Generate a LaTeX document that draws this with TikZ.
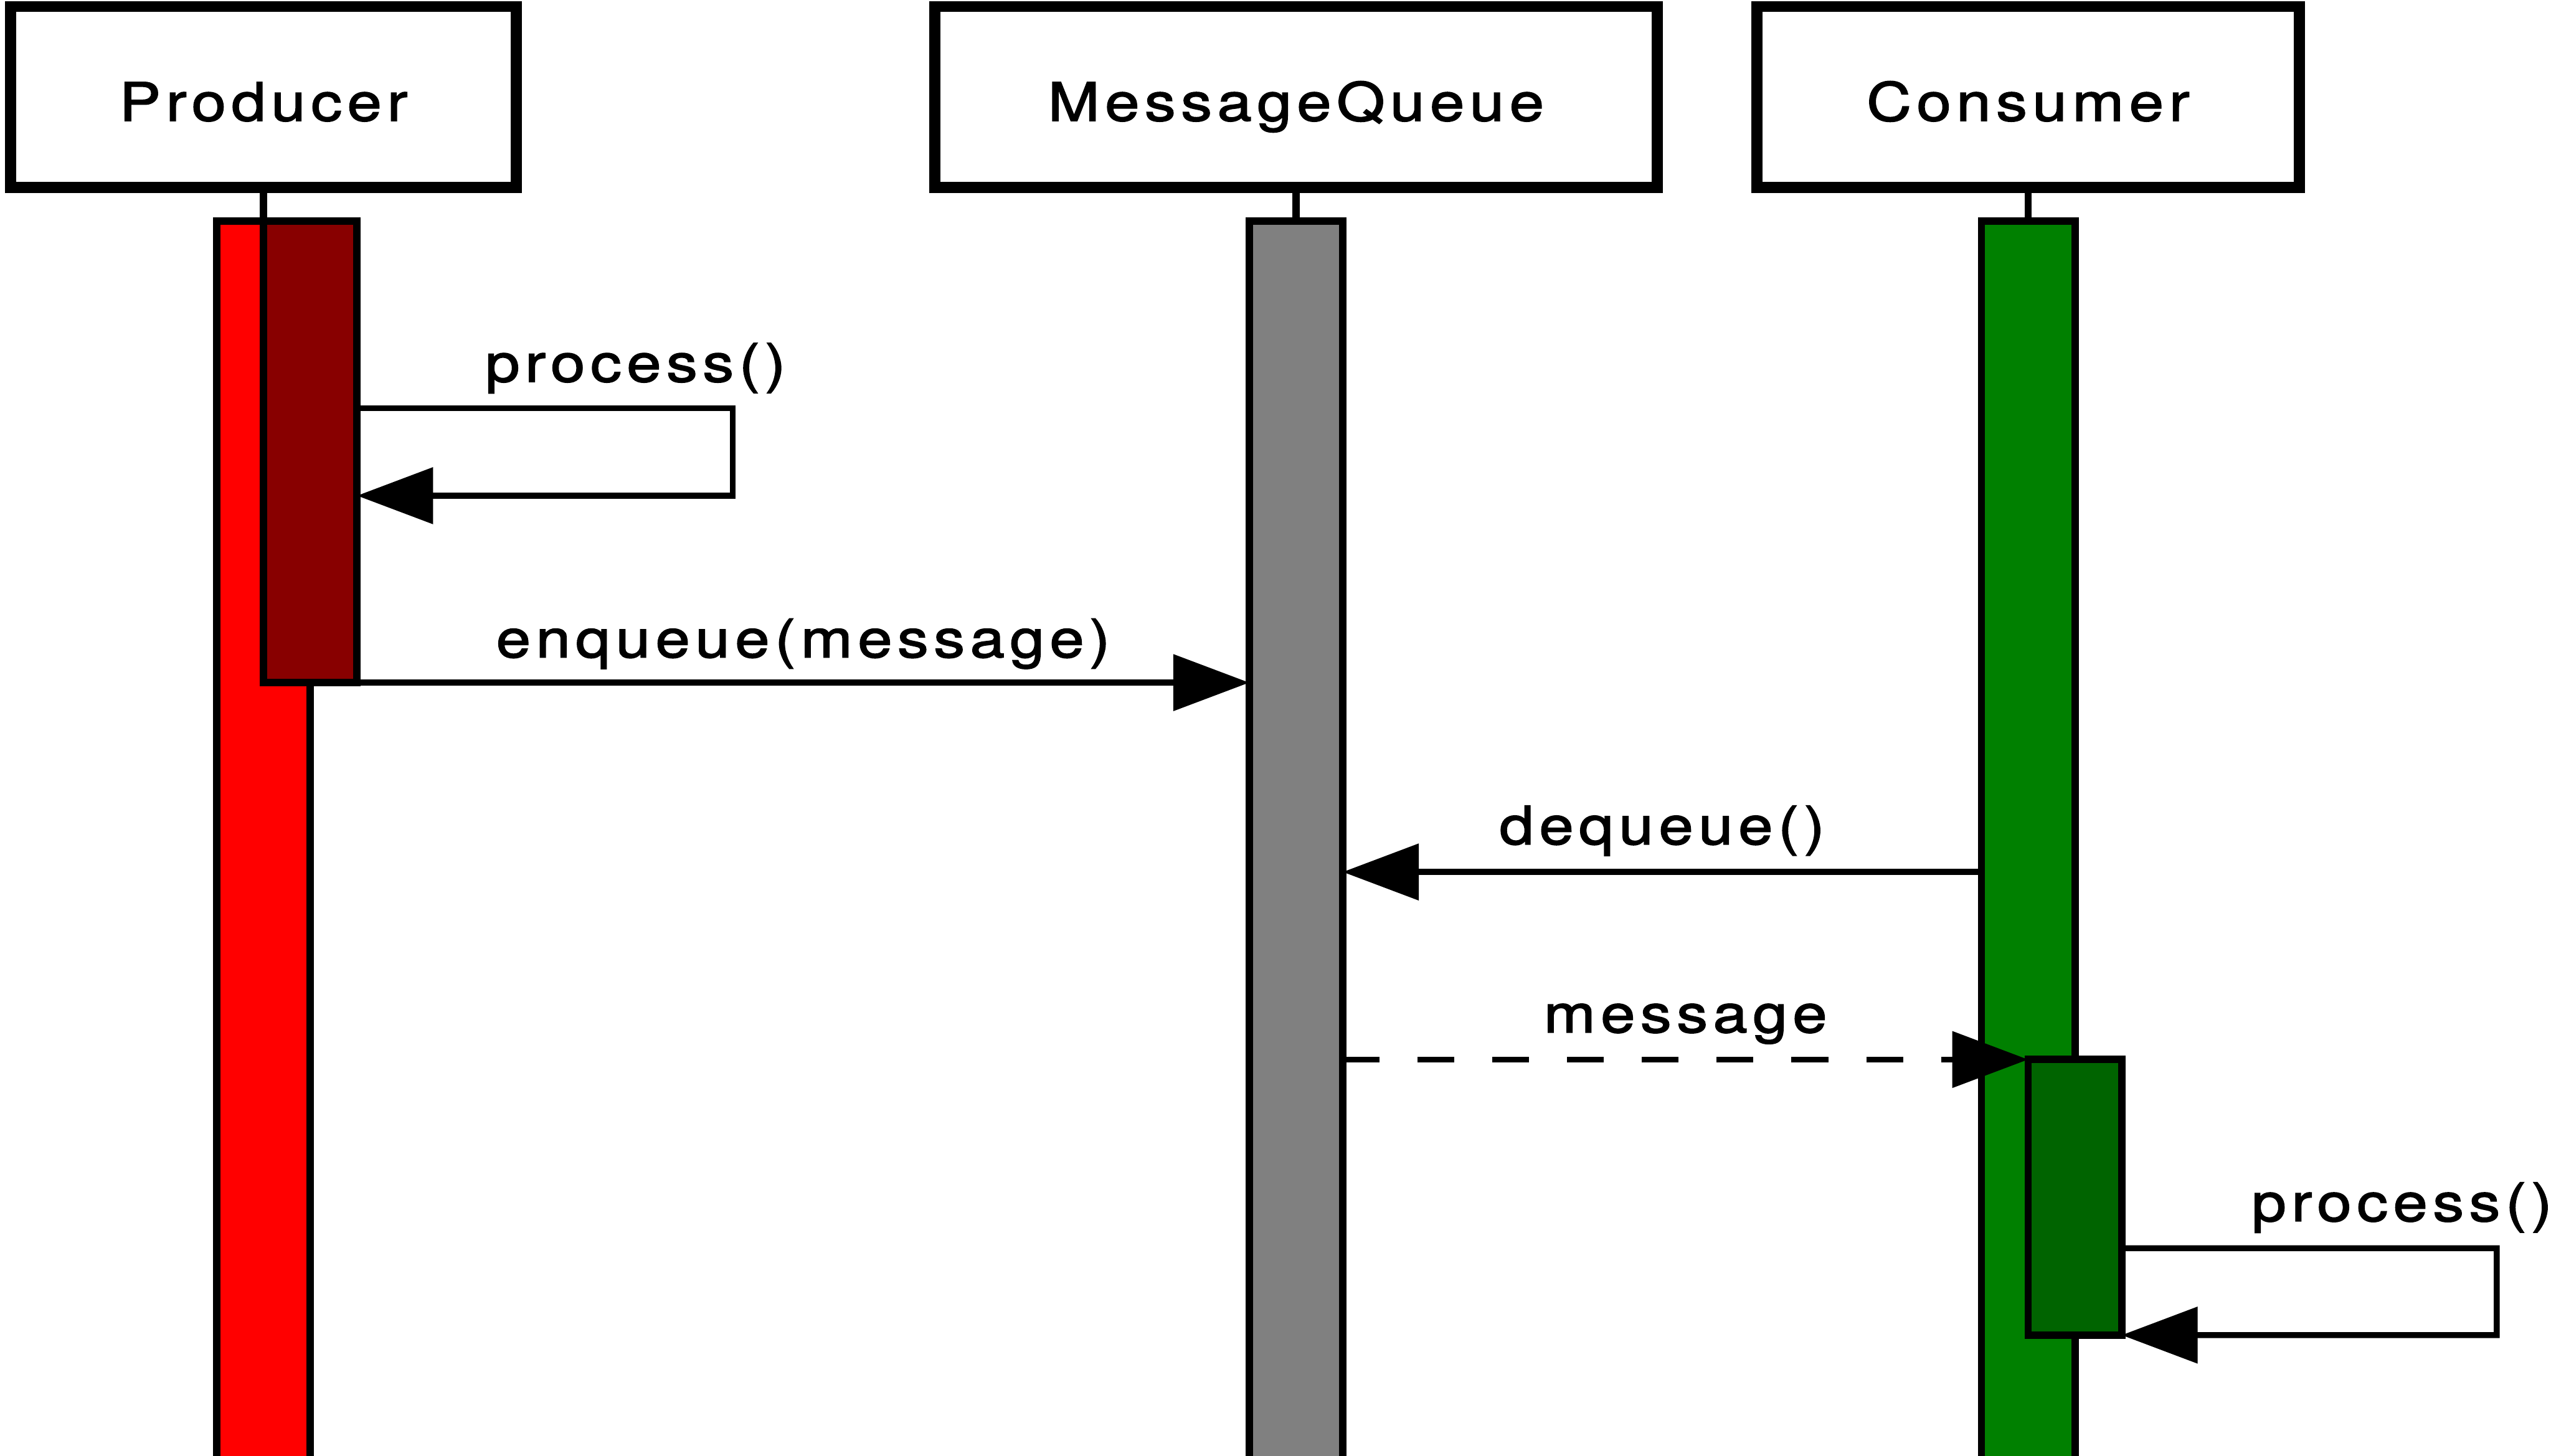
\documentclass[tikz,border=0pt]{standalone}
\usepackage{fontspec}
\usetikzlibrary{arrows.meta,positioning}
\newfontfamily\seqfont[FakeStretch=1.17,LetterSpace=10,FakeBold=2]{TeX Gyre Heros}
\definecolor{prodred}{RGB}{255,0,0}
\definecolor{prodact}{RGB}{136,0,0}
\definecolor{queuegray}{RGB}{128,128,128}
\definecolor{consgreen}{RGB}{0,128,0}
\definecolor{consact}{RGB}{0,100,0}
\tikzset{
    actor/.style={draw, line width=5.2pt, inner sep=0pt, outer sep=0pt,
        minimum height=3cm, text height=0.785cm, text depth=0pt,
        font=\seqfont\fontsize{25pt}{30pt}\selectfont},
    bar/.style={draw, line width=3.5pt, inner sep=0pt, outer sep=0pt,
        minimum width=1.55cm, minimum height=22cm, anchor=north},
    lifeline/.style={line width=3.4pt},
    msg/.style={line width=2.8pt, -{Triangle[length=1.26cm,width=0.92cm]}},
    reply/.style={msg, dash pattern=on 0.61cm off 0.63cm},
    lbl/.style={inner sep=0pt, anchor=base,
        font=\seqfont\fontsize{25pt}{30pt}\selectfont}
}
\begin{document}
\begin{tikzpicture}
    \useasboundingbox (0,0) rectangle (42.30,-24.14);
    \clip (0,0) rectangle (42.30,-24.14);
    \node[actor, minimum width=8.385cm] (prod) at (4.37,-1.61) {Producer};
    \node[actor, minimum width=11.98cm] (queue) at (21.49,-1.61) {MessageQueue};
    \node[actor, minimum width=9.00cm] (cons) at (33.63,-1.61) {Consumer};

    \node[bar, fill=prodred] (prodbar) at (prod.south |- 0,-3.67) {};
    \node[bar, fill=prodact, minimum height=7.65cm, anchor=north west] (prodrun) at (prodbar.north) {};
    \node[bar, fill=queuegray] (qbar) at (queue.south |- 0,-3.67) {};
    \node[bar, fill=consgreen] (consbar) at (cons.south |- 0,-3.67) {};
    \node[bar, fill=consact, minimum height=4.57cm, anchor=north west] (consrun) at (consbar.north |- 0,-17.57) {};

    \foreach \a/\b in {prod/prodbar, queue/qbar, cons/consbar}
        \draw[lifeline] (\a) -- (\b);

    \draw[msg] ([yshift=-3.10cm]prodrun.north east) -| ++(6.23,-1.45) -- ++(-6.23,0);
    \node[lbl, anchor=base west] (proclbl) at ([xshift=2.12cm,yshift=-2.66cm]prodrun.north east) {process()};

    \draw[msg] (prodrun.south east) -- (prodrun.south east -| qbar.west)
        node[lbl, midway, yshift=0.42cm] (enqlbl) {enqueue(message)};

    \coordinate (deq) at (0,-14.46);
    \draw[msg] (deq -| consbar.west) -- (deq -| qbar.east)
        node[lbl, midway, yshift=0.46cm] (deqlbl) {dequeue()};

    \draw[reply] (qbar.east |- consrun.north) -- (consrun.north west)
        node[lbl, midway, yshift=0.45cm] (msglbl) {message};

    \draw[msg] ([yshift=-3.13cm]consrun.north east) -| ++(6.22,-1.44) -- (consrun.south east);
    \node[lbl, anchor=base west] (conslbl) at ([xshift=2.15cm,yshift=-2.68cm]consrun.north east) {process()};
\end{tikzpicture}
\end{document}
